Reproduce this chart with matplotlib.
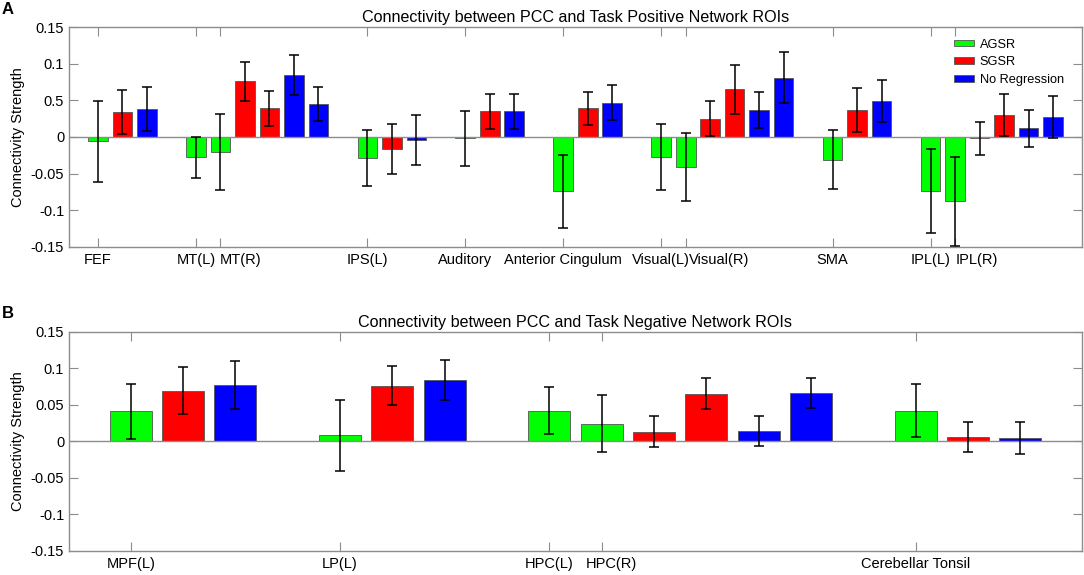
import matplotlib
matplotlib.use('Agg')
import matplotlib.pyplot as plt
import matplotlib.transforms as mtransforms

plt.rcParams['font.family'] = ['Liberation Sans', 'DejaVu Sans']
plt.rcParams['font.size'] = 10.5

methods = ['AGSR', 'SGSR', 'No Regression']
colors = ['#00ff00', '#ff0000', '#0000ff']

# panel A: task positive network
rois_a = ['FEF', 'MT(L)', 'MT(R)', 'IPS(L)', 'Auditory', 'Anterior Cingulum',
          'Visual(L)', 'Visual(R)', 'SMA', 'IPL(L)', 'IPL(R)']
groups_a = [1, 2, 1, 1, 1, 2, 1, 2]   # ROIs per group (L/R pairs share a group)
agsr_a = [-0.006, -0.028, -0.020, -0.029, -0.002, -0.074, -0.027, -0.041, -0.031, -0.074, -0.088]
sgsr_a = [0.034, 0.076, 0.039, -0.016, 0.035, 0.039, 0.025, 0.065, 0.037, -0.002, 0.030]
noreg_a = [0.038, 0.085, 0.045, -0.004, 0.035, 0.047, 0.037, 0.081, 0.049, 0.012, 0.027]
agsr_err_a = [0.055, 0.028, 0.052, 0.038, 0.038, 0.050, 0.045, 0.047, 0.040, 0.057, 0.061]
sgsr_err_a = [0.030, 0.027, 0.024, 0.034, 0.024, 0.023, 0.024, 0.034, 0.030, 0.023, 0.029]
noreg_err_a = [0.030, 0.027, 0.023, 0.034, 0.024, 0.024, 0.025, 0.035, 0.029, 0.025, 0.029]
yticklabels_a = ['-0.15', '-0.1', '-0.05', '0', '0.5', '0.1', '0.15']
label_shift_a = [0, 0, 20, 0, 0, 0, 0, 33, 0, 0, 22]   # px, to keep labels apart

# panel B: task negative network
rois_b = ['MPF(L)', 'LP(L)', 'HPC(L)', 'HPC(R)', 'Cerebellar Tonsil']
groups_b = [1, 1, 2, 1]
agsr_b = [0.041, 0.008, 0.042, 0.024, 0.042]
sgsr_b = [0.069, 0.076, 0.013, 0.065, 0.006]
noreg_b = [0.077, 0.084, 0.014, 0.066, 0.004]
agsr_err_b = [0.038, 0.048, 0.032, 0.039, 0.036]
sgsr_err_b = [0.032, 0.027, 0.021, 0.021, 0.021]
noreg_err_b = [0.033, 0.027, 0.021, 0.021, 0.022]
yticklabels_b = ['-0.15', '-0.1', '-0.05', '0', '0.05', '0.1', '0.15']
label_shift_b = [0, 0, 0, 10, 0]

yticks = [-0.15, -0.1, -0.05, 0, 0.05, 0.1, 0.15]


def slot_positions(groups):
    xs = [[], [], []]
    start = 0
    for n in groups:
        for m in range(3):
            for k in range(n):
                xs[m].append(start + m * n + k)
        start += 3 * n + 1
    return xs, start - 2


def draw_panel(ax, rois, groups, vals, errs, title, ytl, shifts, legend=False):
    xs, last = slot_positions(groups)
    ax.axhline(0, color='#8c8c8c', lw=1, zorder=3)
    for m in range(3):
        ax.bar(xs[m], vals[m], width=0.8, color=colors[m], edgecolor='#555555',
               linewidth=0.6, label=methods[m], zorder=2,
               yerr=errs[m], capsize=3.5,
               error_kw=dict(ecolor='black', elinewidth=1.1, capthick=1.1, zorder=4))
    ax.set_xlim(-1.18, last + 1.18)
    ax.set_ylim(-0.15, 0.15)
    ax.set_xticks(xs[0])
    ax.set_xticklabels(rois)
    ax.set_yticks(yticks)
    ax.set_yticklabels(ytl)
    ax.tick_params(direction='in', length=6.5, width=0.8, color='#8c8c8c',
                   top=True, right=True, pad=4.5)
    ax.tick_params(axis='y', pad=3.5)
    # nudge the right-hand labels of L/R pairs so they don't collide
    for lbl, dx in zip(ax.get_xticklabels(), shifts):
        lbl.set_transform(lbl.get_transform() +
                          mtransforms.ScaledTranslation(dx / 100, 0, fig.dpi_scale_trans))
    for s in ax.spines.values():
        s.set_color('#8c8c8c')
        s.set_linewidth(1)
    ax.set_title(title, fontsize=11.6, pad=3.5)
    ax.set_ylabel('Connectivity Strength')
    ax.yaxis.set_label_coords(-0.0434, 0.5)
    if legend:
        ax.legend(loc='upper left', bbox_to_anchor=(0.8627, 1.001), frameon=False,
                  handlelength=1.56, handleheight=0.42, handletextpad=0.42,
                  labelspacing=0.45, fontsize=9.2)


fig = plt.figure(figsize=(10.84, 5.75), dpi=100)
W, H = 1084, 575
ax_a = fig.add_axes([69 / W, 1 - 246.7 / H, (1082 - 69) / W, 219.4 / H])
ax_b = fig.add_axes([69 / W, 1 - 551 / H, (1082 - 69) / W, 219.4 / H])

draw_panel(ax_a, rois_a, groups_a, [agsr_a, sgsr_a, noreg_a],
           [agsr_err_a, sgsr_err_a, noreg_err_a],
           'Connectivity between PCC and Task Positive Network ROIs', yticklabels_a,
           label_shift_a, legend=True)
draw_panel(ax_b, rois_b, groups_b, [agsr_b, sgsr_b, noreg_b],
           [agsr_err_b, sgsr_err_b, noreg_err_b],
           'Connectivity between PCC and Task Negative Network ROIs', yticklabels_b,
           label_shift_b)

fig.text(8 / W, 1 - 9 / H, 'A', fontsize=12, fontweight='bold', va='center', ha='center')
fig.text(8 / W, 1 - 313 / H, 'B', fontsize=12, fontweight='bold', va='center', ha='center')

fig.savefig('out.png', dpi=100)
